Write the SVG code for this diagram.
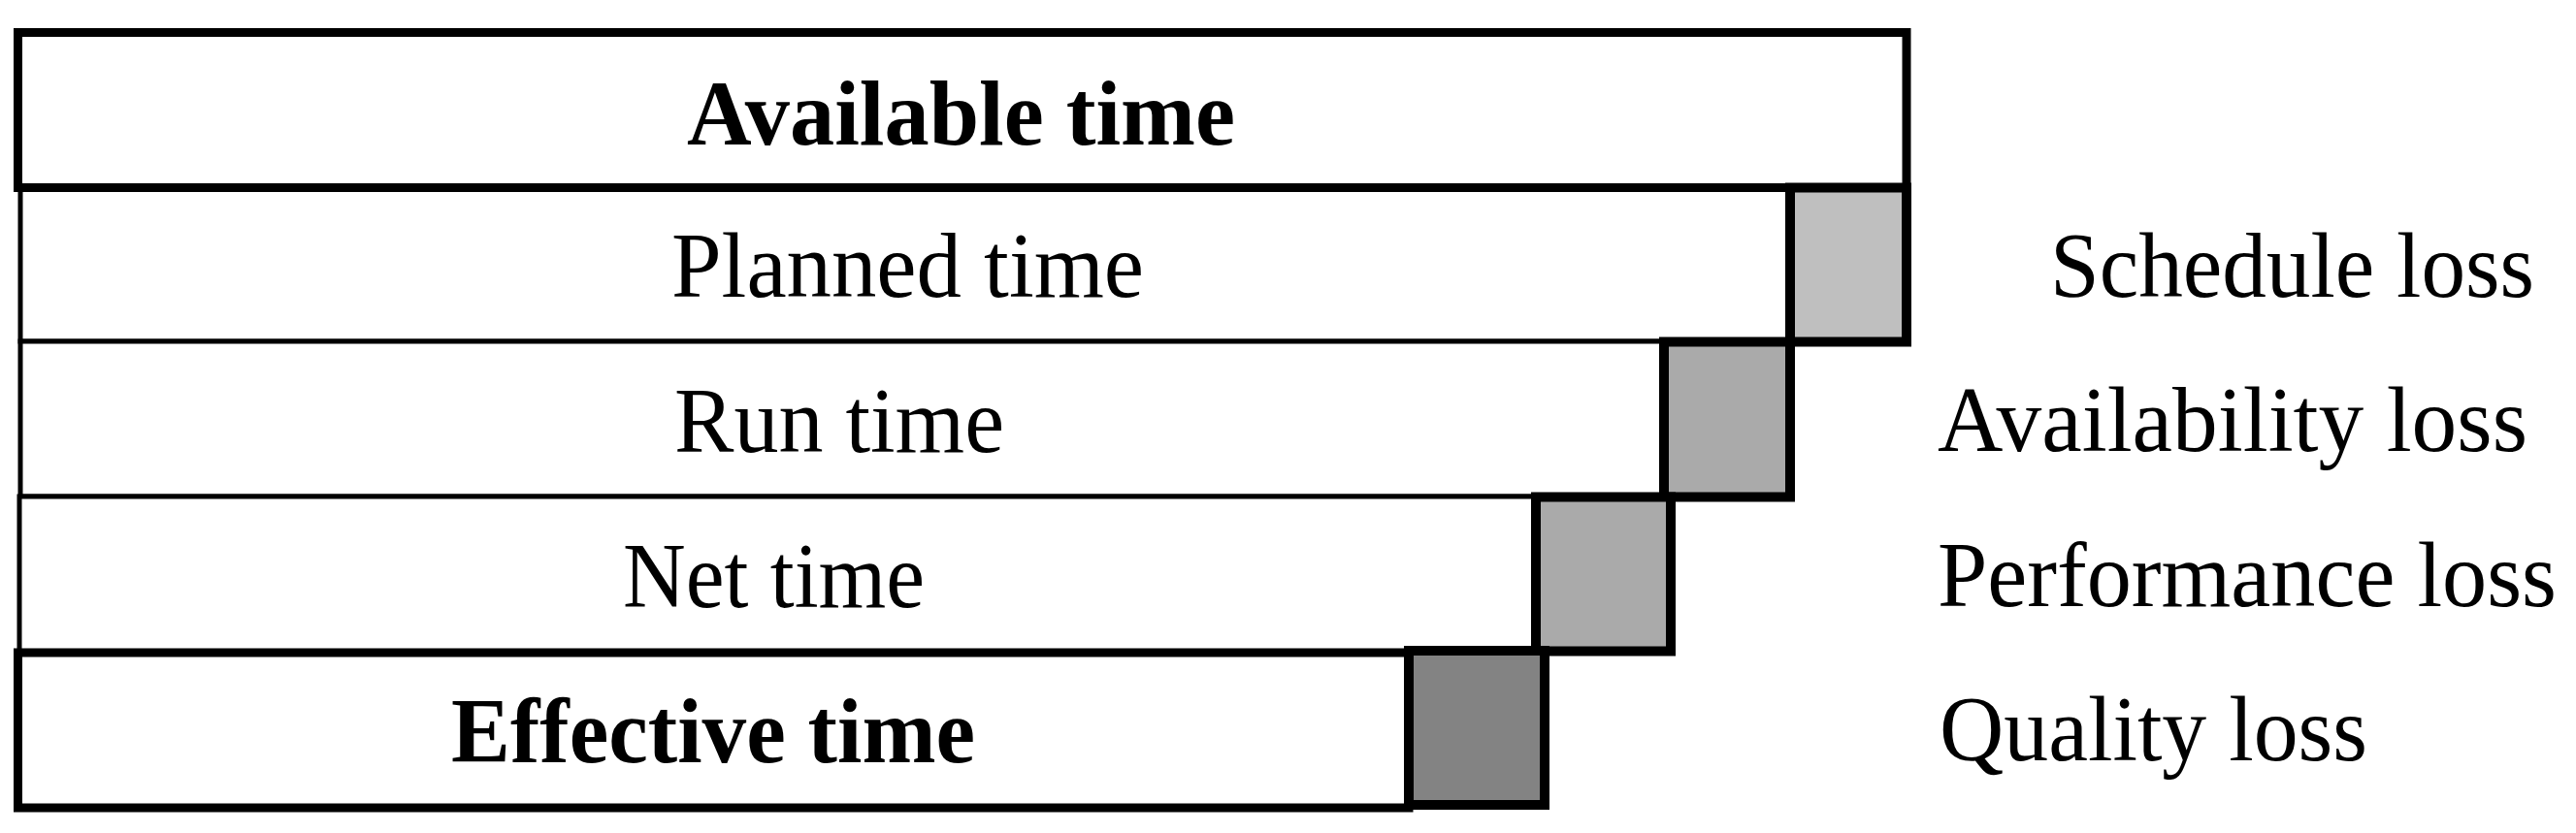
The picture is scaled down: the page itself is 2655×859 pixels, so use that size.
<svg xmlns="http://www.w3.org/2000/svg" width="2655" height="859" viewBox="0 0 2655 859">
<style>
.thin{fill:#fff;stroke:#000;stroke-width:5}
.thick{fill:#fff;stroke:#000;stroke-width:9}
.loss{stroke:#000;stroke-width:10}
.t{font-family:"Liberation Serif","Times New Roman",serif;font-size:96px;fill:#000}
.b{font-weight:bold}
</style>
<rect width="2655" height="859" fill="#fff"/>
<g id="planned">
<rect class="thin" x="21" y="193.5" width="1824" height="158.5"/>
<text class="t" x="935.5" y="306" text-anchor="middle" textLength="487" lengthAdjust="spacingAndGlyphs">Planned time</text>
</g>
<g id="run">
<rect class="thin" x="21" y="352" width="1694" height="160"/>
<text class="t" x="865" y="466" text-anchor="middle" textLength="340" lengthAdjust="spacingAndGlyphs">Run time</text>
</g>
<g id="net">
<rect class="thin" x="20" y="512" width="1563" height="161"/>
<text class="t" x="797.5" y="626" text-anchor="middle" textLength="311" lengthAdjust="spacingAndGlyphs">Net time</text>
</g>
<g id="available">
<rect class="thick" x="18.5" y="33.5" width="1946.5" height="160"/>
<text class="t b" x="990.5" y="149" text-anchor="middle" textLength="565" lengthAdjust="spacingAndGlyphs">Available time</text>
</g>
<g id="effective">
<rect class="thick" x="18.5" y="673" width="1433.5" height="160"/>
<text class="t b" x="735" y="786" text-anchor="middle" textLength="540" lengthAdjust="spacingAndGlyphs">Effective time</text>
</g>
<g id="schedule-loss">
<rect class="loss" fill="#BFBFBF" x="1845" y="193.5" width="120" height="159"/>
<text class="t" x="2113" y="306" textLength="499" lengthAdjust="spacingAndGlyphs">Schedule loss</text>
</g>
<g id="availability-loss">
<rect class="loss" fill="#AAAAAA" x="1715" y="352.5" width="130" height="160"/>
<text class="t" x="1997" y="465" textLength="608" lengthAdjust="spacingAndGlyphs">Availability loss</text>
</g>
<g id="performance-loss">
<rect class="loss" fill="#AAAAAA" x="1583" y="512.5" width="139" height="159"/>
<text class="t" x="1997" y="625" textLength="638" lengthAdjust="spacingAndGlyphs">Performance loss</text>
</g>
<g id="quality-loss">
<rect class="loss" fill="#838383" x="1452" y="671" width="140" height="159"/>
<text class="t" x="1999" y="784" textLength="441" lengthAdjust="spacingAndGlyphs">Quality loss</text>
</g>
<g id="connectors"></g>
</svg>
